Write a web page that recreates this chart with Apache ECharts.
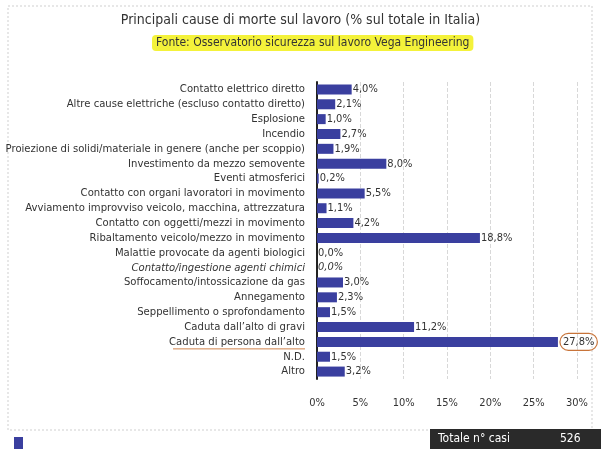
<!DOCTYPE html>
<html>
<head>
<meta charset="utf-8">
<script src="https://cdn.jsdelivr.net/npm/echarts@6/dist/echarts.min.js"></script>
<style>
  html, body { margin: 0; padding: 0; background: #fff; }
  #chart { width: 601px; height: 449px; }
</style>
</head>
<body>
<div id="chart"></div>
<script>
// categorie (dall'alto in basso)
var categories = [
  'Contatto elettrico diretto',
  'Altre cause elettriche (escluso contatto diretto)',
  'Esplosione',
  'Incendio',
  'Proiezione di solidi/materiale in genere (anche per scoppio)',
  'Investimento da mezzo semovente',
  'Eventi atmosferici',
  'Contatto con organi lavoratori in movimento',
  'Avviamento improvviso veicolo, macchina, attrezzatura',
  'Contatto con oggetti/mezzi in movimento',
  'Ribaltamento veicolo/mezzo in movimento',
  'Malattie provocate da agenti biologici',
  'Contatto/ingestione agenti chimici',
  'Soffocamento/intossicazione da gas',
  'Annegamento',
  'Seppellimento o sprofondamento',
  'Caduta dall\u2019alto di gravi',
  'Caduta di persona dall\u2019alto',
  'N.D.',
  'Altro'
];
// percentuali sul totale
var values = [4.0, 2.1, 1.0, 2.7, 1.9, 8.0, 0.2, 5.5, 1.1, 4.2, 18.8, 0.0, 0.0, 3.0, 2.3, 1.5, 11.2, 27.8, 1.5, 3.2];
var xTicks = [0, 5, 10, 15, 20, 25, 30];
var totalCases = 526;

var FONT = "'Liberation Sans Narrow', 'DejaVu Sans Condensed', sans-serif";
var italicIdx = 12;
var markIdx = 17;

var myChart = echarts.init(document.getElementById('chart'));

var option = {
  backgroundColor: '#fff',
  animation: false,
  title: [
    {
      text: 'Principali cause di morte sul lavoro (% sul totale in Italia)',
      left: 'center', top: 8,
      textStyle: { fontFamily: FONT, fontSize: 14, fontWeight: 'normal', color: '#333' }
    },
    {
      text: 'Fonte: Osservatorio sicurezza sul lavoro Vega Engineering',
      left: 152, top: 35,
      padding: [2, 4],
      backgroundColor: '#f4f23a',
      borderRadius: 4,
      textStyle: { fontFamily: FONT, fontSize: 12, fontWeight: 'normal', color: '#333' }
    }
  ],
  grid: { left: 317, right: 24, top: 82, height: 297, containLabel: false, outerBoundsMode: 'none' },
  xAxis: {
    type: 'value',
    min: 0, max: 30, interval: 5,
    axisLine: { show: false },
    axisTick: { show: false },
    axisLabel: {
      margin: 19,
      fontFamily: FONT, fontSize: 11, color: '#333',
      formatter: function (v) { return xTicks.indexOf(v) >= 0 ? v + '%' : ''; }
    },
    splitLine: { show: true, lineStyle: { color: '#d8d8d8', type: 'dashed', width: 1 } }
  },
  yAxis: {
    type: 'category',
    inverse: true,
    data: categories,
    axisLine: { show: true, lineStyle: { color: '#222', width: 2 } },
    axisTick: { show: false },
    axisLabel: {
      interval: 0,
      margin: 12,
      fontFamily: FONT, fontSize: 11.2, color: '#333',
      formatter: function (v, i) {
        if (i === italicIdx) return '{it|' + v + '}';
        return v;
      },
      rich: {
        it: { fontFamily: FONT, fontSize: 11.2, fontStyle: 'italic', color: '#333' }
      }
    }
  },
  series: [{
    type: 'bar',
    data: values.map(function (v, i) {
      var d = { value: v };
      if (i === markIdx) {
        d.label = {
          borderColor: '#c8743a', borderWidth: 1.2, borderRadius: 12,
          padding: [3, 3, 3, 3], distance: 2
        };
      }
      if (i === italicIdx) {
        d.label = { fontStyle: 'italic' };
      }
      return d;
    }),
    barWidth: 10,
    itemStyle: { color: '#3a3f9f' },
    label: {
      show: true,
      position: 'right',
      distance: 1,
      fontFamily: FONT, fontSize: 11, color: '#333',
      formatter: function (p) { return p.value.toFixed(1).replace('.', ',') + '%'; }
    }
  }]
};
myChart.setOption(option);

// cornice, sottolineatura e riquadro totale
var yMark = myChart.convertToPixel({ yAxisIndex: 0 }, markIdx);
myChart.setOption({
  graphic: [
    {
      type: 'rect', silent: true, z: -1,
      shape: { x: 8, y: 6, width: 584, height: 424 },
      style: { fill: 'none', stroke: '#cfcfcf', lineWidth: 1, lineDash: [2, 2] }
    },
    {
      type: 'line', silent: true,
      shape: { x1: 173, y1: yMark + 7, x2: 305, y2: yMark + 7 },
      style: { stroke: '#d0824a', lineWidth: 1 }
    },
    {
      type: 'rect', silent: true,
      shape: { x: 14, y: 437, width: 9, height: 12 },
      style: { fill: '#3a3f9f' }
    },
    {
      type: 'rect', silent: true,
      shape: { x: 430, y: 429, width: 171, height: 20 },
      style: { fill: '#2a2a2a' }
    },
    {
      type: 'text', silent: true, left: 438, top: 433,
      style: { text: 'Totale n\u00b0 casi', fill: '#fff', font: '12px ' + FONT }
    },
    {
      type: 'text', silent: true, left: 560, top: 433,
      style: { text: String(totalCases), fill: '#fff', font: '12px ' + FONT }
    }
  ]
});
</script>
</body>
</html>
